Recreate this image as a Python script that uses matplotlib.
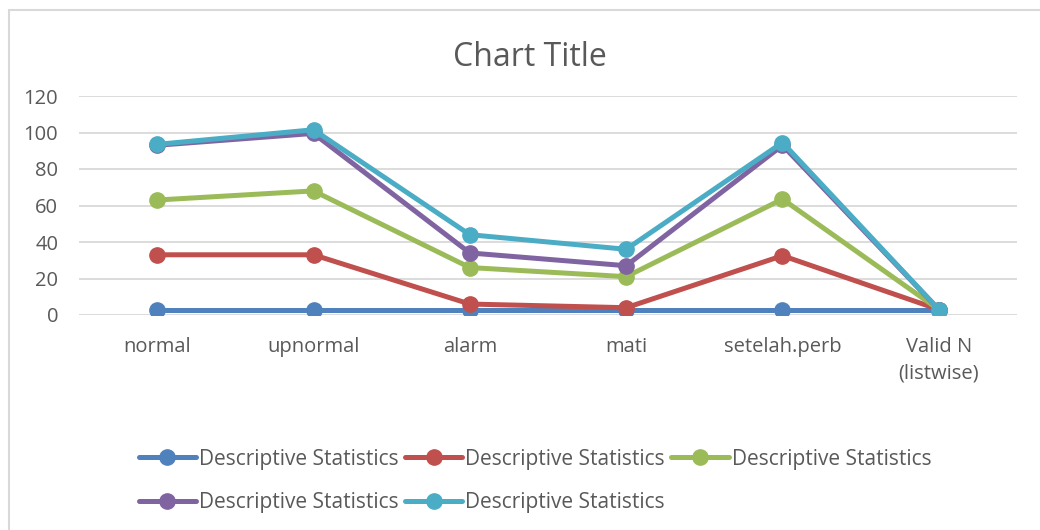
import matplotlib.pyplot as plt
import matplotlib.patches as patches
import numpy as np

plt.rcParams['font.family'] = ['Open Sans', 'DejaVu Sans']

# data
categories = ['normal', 'upnormal', 'alarm', 'mati', 'setelah.perb', 'Valid N\n(listwise)']
series_1 = [3, 3, 3, 3, 3, 3]
series_2 = [33, 33, 6, 4, 32.5, 3]
series_3 = [63, 68, 26, 21, 63.5, 3]
series_4 = [93, 99.5, 34, 27, 93, 3]
series_5 = [93.5, 101.5, 44, 36, 94.5, 3]
series_names = ['Descriptive Statistics'] * 5
colors = ['#4F81BD', '#C0504D', '#9BBB59', '#8064A2', '#4BACC6']

TEXT = '#595959'
GRID = '#D9D9D9'

fig = plt.figure(figsize=(10.4, 5.3), dpi=100)
W, H = 1040, 530
ax = fig.add_axes([79 / W, 1 - 315 / H, (1017 - 79) / W, (315 - 96) / H])

x = np.arange(len(categories))
lines = []
for vals, name, c in zip([series_1, series_2, series_3, series_4, series_5], series_names, colors):
    ln, = ax.plot(x, vals, color=c, lw=3.6, marker='o', markersize=11,
                  solid_capstyle='round', label=name)
    lines.append(ln)

ax.set_xlim(-0.5, len(categories) - 0.5)
ax.set_ylim(0, 120)
ax.set_yticks(np.arange(0, 121, 20))
ax.set_xticks(x)
ax.set_xticklabels(categories)
ax.yaxis.grid(True, color=GRID, lw=1.3)
ax.set_axisbelow(True)
for s in ax.spines.values():
    s.set_visible(False)
ax.tick_params(length=0, colors=TEXT, labelsize=14.5)
ax.tick_params(axis='y', pad=15)
ax.tick_params(axis='x', pad=16)
for t in ax.get_xticklabels():
    t.set_linespacing(1.45)

fig.text(530 / W, 1 - 57 / H, 'Chart Title', ha='center', va='center',
         fontsize=23, color=TEXT)

# row-wise legend order: 1 2 3 / 4 5
order = [0, 3, 1, 4, 2]
leg = fig.legend([lines[i] for i in order], [series_names[i] for i in order],
                 loc='center', bbox_to_anchor=(535 / W, 1 - 481 / H), ncol=3,
                 frameon=False, fontsize=15, handlelength=2.75, handletextpad=0.15,
                 columnspacing=0.3, labelspacing=1.1, labelcolor=TEXT)

# outer chart border
fig.patches.append(patches.Rectangle((8.5 / W, -0.1), 1.2, 1 - 10 / H + 0.1,
                                     transform=fig.transFigure, fill=False,
                                     edgecolor=GRID, lw=1.5))

fig.savefig('out.png', dpi=100)
